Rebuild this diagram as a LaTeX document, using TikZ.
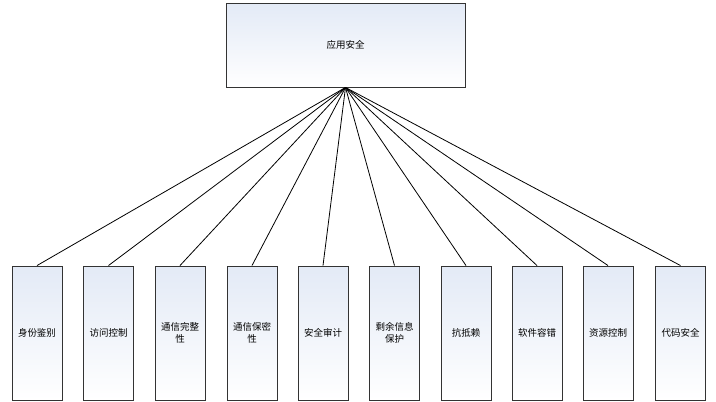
\documentclass[tikz,border=0pt]{standalone}
\usepackage{fontspec}
\setmainfont{Noto Sans CJK SC}
\definecolor{boxblue}{HTML}{E3EAF6}
\begin{document}
\begin{tikzpicture}[x=1pt,y=1pt,
  box/.style={draw=black!80, line width=0.9pt, top color=boxblue, bottom color=white,
    font=\fontsize{9.5}{12.5}\selectfont, align=center, inner sep=0pt},
  leaf/.style={box, minimum width=50pt, minimum height=134pt, text width=46pt},
  link/.style={draw=black, line width=0.8pt}]
\useasboundingbox[fill=white] (0,0) rectangle (716,-402);
\node[box, minimum width=239pt, minimum height=84pt] (top) at (345.5,-45) {应用安全};
\node[leaf] (b1) at (37,-333) {身份鉴别};
\node[leaf] (b2) at (108.5,-333) {访问控制};
\node[leaf] (b3) at (180,-333) {通信完整\\性};
\node[leaf] (b4) at (252,-333) {通信保密\\性};
\node[leaf] (b5) at (323,-333) {安全审计};
\node[leaf] (b6) at (394.5,-333) {剩余信息\\保护};
\node[leaf] (b7) at (466,-333) {抗抵赖};
\node[leaf] (b8) at (537,-333) {软件容错};
\node[leaf] (b9) at (608,-333) {资源控制};
\node[leaf] (b10) at (680.5,-333) {代码安全};
\foreach \i in {1,...,10} {\draw[link] (top.south) -- (b\i.north);}
\end{tikzpicture}
\end{document}
